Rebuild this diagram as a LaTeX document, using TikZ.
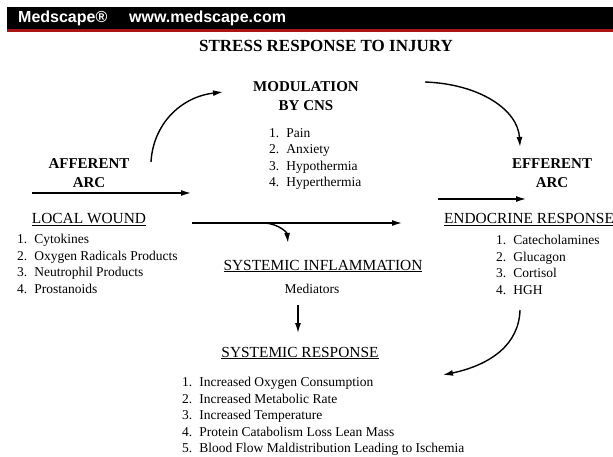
\documentclass[tikz,border=0pt]{standalone}
\usepackage{fontspec}
\setmainfont{Liberation Serif}
\newfontfamily\hdrfont{Liberation Sans}
\usetikzlibrary{arrows.meta}
\definecolor{medred}{RGB}{170,20,20}
\newcommand{\lnum}[1]{#1.\hspace{7pt}}

\begin{document}
\begin{tikzpicture}[x=1pt, y=-1pt,
  head/.style={font=\fontsize{15}{19.5}\selectfont\bfseries, align=center, inner sep=0pt},
  uhead/.style={font=\fontsize{15.4}{18}\selectfont, inner sep=0pt, anchor=base},
  items/.style={font=\fontsize{13.5}{16.5}\selectfont, align=left, anchor=north west, inner sep=0pt},
  banner/.style={anchor=base west, text=white, inner sep=0pt, font=\hdrfont\fontsize{16}{18}\selectfont\bfseries},
  arr/.style={line width=1.4pt, -{Latex[length=10pt,width=6pt]}}]
  \useasboundingbox (0,0) rectangle (613,457);
  % banner
  \fill[black] (7,7) rectangle (613,29);
  \fill[medred] (7,29) rectangle (613,32);
  \node[banner] (brand) at (18,23) {Medscape®};
  \node[banner] (url) at (129,23) {www.medscape.com};
  \node[anchor=base, inner sep=0pt, font=\fontsize{17}{20}\selectfont\bfseries] (title) at (326,52) {STRESS RESPONSE TO INJURY};

  % headings
  \node[head, anchor=north] (cns) at (306,81) {MODULATION\\BY CNS};
  \node[head, anchor=north] (aff) at (89,158) {AFFERENT\\ARC};
  \node[head, anchor=north] (eff) at (552,158) {EFFERENT\\ARC};
  \node[uhead] (wound) at (89,224) {\underline{LOCAL WOUND}};
  \node[uhead] (endo) at (529,224) {\underline{ENDOCRINE RESPONSE}};
  \node[uhead] (sinfl) at (323,270) {\underline{SYSTEMIC INFLAMMATION}};
  \node[uhead, font=\fontsize{13.5}{16.5}\selectfont] (med) at (312,293) {Mediators};
  \node[uhead] (sresp) at (300,357) {\underline{SYSTEMIC RESPONSE}};

  % lists
  \node[items] (cnslist) at (269,128) {\lnum{1}Pain\\\lnum{2}Anxiety\\\lnum{3}Hypothermia\\\lnum{4}Hyperthermia};
  \node[items] (woundlist) at (17,234) {\lnum{1}Cytokines\\\lnum{2}Oxygen Radicals Products\\\lnum{3}Neutrophil Products\\\lnum{4}Prostanoids};
  \node[items] (endolist) at (496,235) {\lnum{1}Catecholamines\\\lnum{2}Glucagon\\\lnum{3}Cortisol\\\lnum{4}HGH};
  \node[items] (sresplist) at (182,377) {\lnum{1}Increased Oxygen Consumption\\\lnum{2}Increased Metabolic Rate\\\lnum{3}Increased Temperature\\\lnum{4}Protein Catabolism Loss Lean Mass\\\lnum{5}Blood Flow Maldistribution Leading to Ischemia};

  % arrow ends
  \coordinate (affL) at (32,193);
  \coordinate (affR) at (191,193);
  \coordinate (upS) at (151,162);
  \coordinate (upE) at (223,92);
  \coordinate (dnS) at (425,82);
  \coordinate (dnE) at (520,147);
  \coordinate (effL) at (438,199);
  \coordinate (effR) at (526,199);
  \coordinate (longL) at (192,223);
  \coordinate (longR) at (402,223);
  \coordinate (brS) at (265,223);
  \coordinate (brE) at (288,243);
  \coordinate (medS) at (298,305);
  \coordinate (medE) at (298,333);
  \coordinate (backS) at (520,310);
  \coordinate (backE) at (443,375);

  % arrows
  \draw[arr] (affL) -- (affR);
  \draw[arr] (upS) .. controls (153,125) and (180,97) .. (upE);
  \draw[arr] (dnS) .. controls (480,84) and (518,110) .. (dnE);
  \draw[arr] (effL) -- (effR);
  \draw[arr] (longL) -- (longR);
  \draw[arr] (brS) .. controls (278,224) and (287,232) .. (brE);
  \draw[arr] (medS) -- (medE);
  \draw[arr] (backS) .. controls (519,345) and (490,365) .. (backE);
\end{tikzpicture}
\end{document}
